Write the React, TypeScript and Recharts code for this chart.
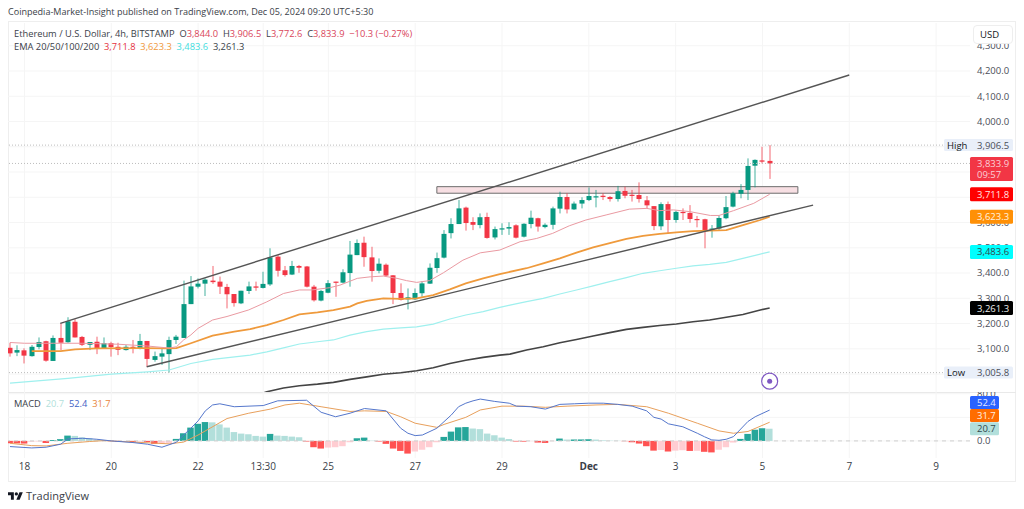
import { Bar, CartesianGrid, Cell, ComposedChart, Line, ReferenceArea, ReferenceDot, ReferenceLine, XAxis, YAxis } from "recharts";

const FONT = "'Open Sans', sans-serif";
const UP = "#089981";
const DOWN = "#f23645";

// 4h candles, left to right
const opens = [
  3104,3085,3094,3071,3107,3130,3052,3143,3126,3207,
  3147,3116,3128,3103,3122,3108,3095,3108,3100,3131,
  3056,3069,3079,3135,3143,3277,3346,3358,3370,3366,
  3345,3317,3280,3329,3347,3341,3355,3465,3411,3394,
  3428,3426,3346,3291,3322,3366,3362,3400,3471,3520,
  3462,3409,3433,3391,3321,3296,3296,3320,3358,3420,
  3461,3558,3594,3659,3602,3590,3622,3541,3573,3576,
  3589,3544,3594,3617,3582,3591,3655,3701,3652,3675,
  3689,3702,3706,3701,3693,3725,3710,3709,3688,3665,
  3585,3673,3610,3642,3638,3614,3613,3573,3576,3617,
  3663,3714,3729,3825,3846,3844,
];
const highs = [
  3124,3114,3102,3115,3145,3132,3153,3201,3225,3217,
  3151,3127,3148,3145,3128,3124,3115,3135,3159,3131,
  3089,3102,3148,3155,3370,3388,3379,3379,3428,3386,
  3357,3317,3330,3366,3366,3405,3498,3471,3428,3448,
  3432,3428,3353,3333,3372,3366,3415,3527,3533,3544,
  3504,3458,3438,3392,3359,3339,3339,3368,3438,3481,
  3570,3617,3689,3663,3621,3636,3639,3584,3597,3601,
  3593,3597,3647,3619,3597,3663,3722,3716,3683,3700,
  3739,3729,3716,3705,3745,3742,3729,3759,3705,3665,
  3680,3683,3647,3656,3669,3626,3615,3590,3628,3705,
  3722,3752,3854,3850,3900,3906.5,
];
const lows = [
  3069,3071,3042,3069,3098,3049,3052,3095,3124,3145,
  3111,3095,3079,3103,3069,3075,3093,3082,3098,3029,
  3049,3036,3005.8,3119,3143,3277,3339,3309,3357,3317,
  3260,3267,3277,3317,3330,3339,3349,3386,3386,3392,
  3401,3343,3287,3288,3320,3306,3359,3346,3471,3425,
  3366,3399,3386,3277,3291,3256,3293,3306,3357,3401,
  3458,3537,3594,3568,3570,3577,3536,3533,3551,3551,
  3537,3541,3577,3564,3577,3573,3636,3636,3650,3656,
  3685,3660,3689,3683,3683,3696,3683,3679,3654,3570,
  3570,3555,3599,3610,3599,3581,3498,3540,3570,3613,
  3660,3696,3689,3739,3834,3772.6,
];
const closes = [
  3082,3095,3073,3108,3127,3053,3143,3124,3209,3145,
  3116,3127,3103,3122,3107,3096,3108,3100,3131,3060,
  3071,3082,3135,3148,3277,3347,3358,3374,3364,3346,
  3316,3281,3330,3347,3342,3357,3462,3409,3392,3428,
  3421,3346,3292,3329,3360,3362,3403,3473,3519,3463,
  3408,3437,3390,3321,3294,3304,3321,3359,3421,3459,
  3555,3594,3656,3598,3591,3621,3539,3574,3577,3582,
  3540,3595,3619,3584,3591,3656,3701,3652,3675,3689,
  3705,3704,3702,3693,3724,3706,3709,3693,3668,3586,
  3673,3610,3642,3638,3614,3611,3568,3576,3618,3661,
  3716,3729,3824,3848,3841,3833.9,
];
const macdHist = [
  -4,-4.2,-4.5,-1.5,-1,-3.5,1.5,3,9,8.5,
  6,4.5,2,0.5,-0.5,-1.5,-1.3,-2,-1,-2,
  -5,-4.8,-3.5,3.4,13,22.6,29,32,31.5,28,
  22.6,15,12.4,11.3,8.5,7.3,11.9,9,8.5,7.3,
  6.2,-1,-10.7,-13,-11.3,-10.7,-9,-2.3,4.5,5.6,
  0.5,-1,-5,-13,-17,-21.5,-18,-15,-10.7,-2.3,
  6.8,15.8,23,23.5,21,20,12.4,9.6,5.6,3.4,
  -1,-1.2,-0.5,-2.8,-3.4,-0.5,4,2.3,2.4,2.5,
  2.8,2.3,1,0.5,0.3,-0.5,-2.3,-4.5,-9,-16.5,
  -15.5,-18,-16.5,-15.8,-17,-16.8,-18.5,-19.5,-15,-10.7,
  -2.8,3.4,11.9,19,21.5,20.7,
];

// moving averages, read at a candle position
const ema20At = [0,2,6,10,15,19,22,23,24,25,26,28,30,33,35.5,37.8,40,41.7,44.2,45.6,48,49.8,51.6,53.5,54.8,56.2,58,59.9,62.6,65,67.7,70.5,72.8,75,77.3,79.6,82.4,85.6,88,89.8,91.7,94,96.8,98,100,102.8,105];
const ema20 = [3125,3122,3122,3122,3118,3111,3103,3108,3135,3155,3181,3214,3228,3254,3286,3319,3333,3333,3342,3352,3379,3385,3388,3379,3370,3363,3370,3401,3451,3480,3491,3524,3537,3557,3587,3610,3630,3653,3656,3647,3650,3643,3628,3628,3647,3676,3711.8];
const ema50At = [3,7,9,12,18,22,23,25,28,31,33.2,35.5,37.8,40,42.5,44.7,47,48,49.3,51.6,54,56.2,58.5,60.8,63,65.4,67.7,71.4,73.7,76,78.3,80.6,82.9,85.2,87.5,89.8,92.1,94.4,96.7,99,101.3,103.7,105];
const ema50 = [3091,3091,3098,3102,3103,3102,3103,3122,3152,3168,3178,3194,3214,3236,3244,3253,3267,3280,3290,3300,3298,3300,3313,3335,3359,3379,3396,3419,3438,3458,3481,3502,3518,3535,3547,3555,3561,3566,3568,3570,3590,3610,3623.3];
const ema100At = [0,8,14,19,22,25,28,33.2,35.5,37.8,40,42.5,44.7,47,49.3,51.6,54,56.2,58.5,60.8,63,65.4,67.7,69.1,71.4,73.7,76,78.3,80.6,82.9,85.2,87.5,89.8,92.1,94.4,96.7,99,101.3,103.7,105];
const ema100 = [2964,2983,3000,3009,3016,3042,3058,3075,3088,3104,3119,3128,3135,3154,3168,3178,3183,3187,3198,3218,3234,3247,3264,3273,3287,3300,3317,3333,3349,3366,3382,3399,3409,3419,3428,3434,3442,3458,3475,3483.6];
const ema200At = [34,35.5,37.8,40,42.5,44.7,47,49.3,51.6,54,56.2,58.5,60.8,63,65.4,67.7,69.1,71.4,73.7,76,78.3,80.6,82.9,85.2,87.5,89.8,92.1,94.4,96.7,99,101.3,103.7,105];
const ema200 = [2915,2930,2945,2954,2960,2967,2979,2989,2999,3005,3013,3025,3042,3055,3066,3075,3079,3095,3108,3124,3137,3151,3164,3177,3185,3192,3198,3207,3214,3225,3236,3254,3261.3];

const macdAt = [0,3,5,7,8,10,12,14,17,19,21,23,24,25,26,27,28,29,31,35,37,41,43,45,47,49,52,54,55,56,57,59,61,62,63,64,65,67,69,70,72,74,76,78,80,82,84,86,88,89,90,91,93,95,96,97,98,99,100,102,103,105];
const macdLine = [-9.6,-11.9,-10.7,-5.6,3.4,4.5,2.8,0,-2.8,-5.6,-10.7,-2.3,10,21.5,34,51,61,63,58,60,68,69,48.6,41,47,55,51,21.5,13,9,10,21.5,44,58,64,68,71,67,64,59,58,54,62,63,64,64,62,59,51,40,37,29,24,13,7,1.7,1,2.8,7.3,33,41,52.4];
const signalAt = [0,3,5,8,11,13,17,22,24,26,30,33,36,38,40,43,47,49,52,54,56,59,60,63,65,68,71,74,77,81,84,88,91,95,98,100,102,105];
const signalLine = [-4,-8,-8.5,-4,-1,0.5,-2,-5,-2,10,38,47,54,61,64,58,50,51,50,41,30,23,28,40,52.5,59,59,57,59,61,62,58,47,30,17,13,16,31.7];

const priceGrid = [3000,3100,3200,3300,3400,3500,3600,3700,3800,3900,4000,4100,4200,4300];
// the other levels sit fully behind a value box
const priceTicks = [3100,3200,3300,3400,3500,3600,4000,4100,4200,4300];
const macdGrid = [0,40,80];
const macdTicks = [0,80];
const timeTickAt = [2,14,26,35,44,56,68,80,92,104,116,128];
const timeTickLabels = ["18","20","22","13:30","25","27","29","Dec","3","5","7","9"];

const candles = opens.map((open, k) => ({ k, open, high: highs[k], low: lows[k], close: closes[k], hist: macdHist[k] }));
const zipLine = (at: number[], vals: number[]) => at.map((k, i) => ({ k, v: vals[i] }));

const X_DOMAIN: [number, number] = [-0.276, 132.69];
const PRICE_DOMAIN: [number, number] = [2929, 4390];
const MACD_DOMAIN: [number, number] = [-29, 83];

const histColor = (i: number) => {
  const v = macdHist[i];
  const prev = i > 0 ? macdHist[i - 1] : 0;
  if (v >= 0) return v > prev ? "#26a69a" : "#b2dfdb";
  return v < prev ? "#ff5252" : "#ffcdd2";
};

function Candle(props: any) {
  const { x, y, width, height, payload } = props;
  const { open, high, low, close } = payload;
  const perUnit = height / (high - low);
  const cx = Math.round(x + width / 2);
  const top = y + (high - Math.max(open, close)) * perUnit;
  const bodyH = Math.max(Math.abs(open - close) * perUnit, 1.2);
  const color = close >= open ? UP : DOWN;
  return (
    <g>
      <line x1={cx} x2={cx} y1={y} y2={y + height} stroke={color} strokeWidth={1} opacity={0.75} />
      <rect x={cx - 2.5} y={top} width={5} height={bodyH} fill={color} />
    </g>
  );
}

// coloured value box sitting in the price scale
function tag(text: string, bg: string, fg: string, opts: { w?: number; h?: number; up?: number; name?: string; extra?: string } = {}) {
  const { w = 43, h = 14, up = 7, name, extra } = opts;
  return (p: any) => {
    const right = p.viewBox.x + p.viewBox.width;
    const y = p.viewBox.y;
    const left = name ? right - 26 : right;
    return (
      <g style={{ fontFamily: FONT, fontSize: 9.5 }}>
        <rect x={left} y={y - up} width={w + (right - left)} height={h} fill={bg} rx={1.5} />
        {name && <text x={left + 3} y={y + 3.5} fill="#131722">{name}</text>}
        <text x={right + 7} y={y + 3.5} fill={fg}>{text}</text>
        {extra && <text x={right + 7} y={y + 14.5} fill={fg}>{extra}</text>}
      </g>
    );
  };
}

const HIDDEN = "transparent";

function TimeTick(props: any) {
  const { x, y, payload } = props;
  const label = timeTickLabels[timeTickAt.indexOf(payload.value)];
  return (
    <text x={x} y={y + 4} textAnchor="middle" fontFamily={FONT} fontSize={10} fill="#3a3e48" fontWeight={label === "Dec" ? 700 : 400}>
      {label}
    </text>
  );
}

function Legend() {
  const base = { position: "absolute" as const, whiteSpace: "nowrap" as const, fontFamily: FONT, fontSize: 9.3, color: "#3a3e48" };
  const red = { color: "#d9455a" };
  return (
    <>
      <div style={{ ...base, left: 8, top: 5, fontSize: 9.05 }}>Coinpedia-Market-Insight published on TradingView.com, Dec 05, 2024 09:20 UTC+5:30</div>
      <div style={{ ...base, left: 14, top: 27 }}>
        Ethereum / U.S. Dollar, 4h, BITSTAMP&nbsp; O<span style={red}>3,844.0</span>&nbsp; H<span style={red}>3,906.5</span>&nbsp; L<span style={red}>3,772.6</span>&nbsp; C<span style={red}>3,833.9</span>&nbsp; <span style={red}>−10.3 (−0.27%)</span>
      </div>
      <div style={{ ...base, left: 14, top: 40 }}>
        EMA 20/50/100/200&nbsp; <span style={{ color: "#e5303c" }}>3,711.8</span>&nbsp; <span style={{ color: "#f0983a" }}>3,623.3</span>&nbsp; <span style={{ color: "#3fdde0" }}>3,483.6</span>&nbsp; <span>3,261.3</span>
      </div>
      <div style={{ ...base, left: 14, top: 397 }}>
        MACD&nbsp; <span style={{ color: "#b2dfdb" }}>20.7</span>&nbsp; <span style={{ color: "#3f62c4" }}>52.4</span>&nbsp; <span style={{ color: "#e8853a" }}>31.7</span>
      </div>
      <svg style={{ position: "absolute", left: 8, top: 491 }} width={15} height={10} viewBox="0 3 36 20">
        <path d="M14 22H7V11H0V4h14v18zM28 22h-8l7.5-18h8L28 22z" fill="#131722" />
        <circle cx={20} cy={8} r={4} fill="#131722" />
      </svg>
      <div style={{ ...base, left: 26, top: 488, fontSize: 11 }}>TradingView</div>
      <div style={{ position: "absolute", left: 973, top: 25, width: 40, height: 19, border: "1px solid #eeeeee", borderRadius: 4, background: "#fff", boxSizing: "border-box" }} />
      <div style={{ ...base, left: 980, top: 28, fontSize: 9.5, color: "#131722" }}>USD</div>
    </>
  );
}

export default function App() {
  return (
    <div style={{ position: "absolute", left: 0, top: 0, width: 1024, height: 509, background: "#fff", overflow: "hidden" }}>
      <div style={{ position: "absolute", left: 8, top: 21, width: 1008, height: 461, border: "1px solid #eeeeee", boxSizing: "border-box" }} />
      <div style={{ position: "absolute", left: 8, top: 392, width: 1008, height: 1, background: "#e9e9e9" }} />

      <div style={{ position: "absolute", left: 0, top: 0 }}>
        <ComposedChart width={1024} height={392} data={candles} margin={{ top: 23, right: 8, bottom: 0, left: 8 }}>
          <CartesianGrid stroke="#f5f5f5" horizontalValues={priceGrid} verticalValues={timeTickAt} />
          <XAxis dataKey="k" type="number" domain={X_DOMAIN} hide allowDataOverflow />
          <YAxis
            orientation="right"
            width={46}
            domain={PRICE_DOMAIN}
            allowDataOverflow
            ticks={priceTicks}
            interval={0}
            axisLine={false}
            tickLine={false}
            tickMargin={1}
            tickFormatter={(v: number) => v.toLocaleString("en-US", { minimumFractionDigits: 1 })}
            tick={{ fontSize: 9.5, fontFamily: FONT, fill: "#4a4e58" }}
          />
          <ReferenceLine y={3906.5} stroke="#bdbdbd" strokeDasharray="1 2" />
          <ReferenceLine y={3833.9} stroke="#bdbdbd" strokeDasharray="1 2" />
          <ReferenceLine y={3005.8} stroke="#bdbdbd" strokeDasharray="1 2" />
          <ReferenceArea x1={59} x2={108.9} y1={3716} y2={3742} fill="#f7dfe3" fillOpacity={1} stroke="#6d6d6d" strokeWidth={1} />
          <Line data={zipLine(ema200At, ema200)} dataKey="v" stroke="#444444" strokeWidth={1.6} dot={false} isAnimationActive={false} />
          <Line data={zipLine(ema100At, ema100)} dataKey="v" stroke="#9ff0ee" strokeWidth={1.2} dot={false} isAnimationActive={false} />
          <Line data={zipLine(ema50At, ema50)} dataKey="v" stroke="#ef9a3c" strokeWidth={1.8} dot={false} isAnimationActive={false} />
          <Line data={zipLine(ema20At, ema20)} dataKey="v" stroke="#ea9aa2" strokeWidth={1} dot={false} isAnimationActive={false} />
          <Bar dataKey={(d: any) => [d.low, d.high]} barSize={5} shape={<Candle />} isAnimationActive={false} />
          <ReferenceLine segment={[{ x: 6.95, y: 3201 }, { x: 116, y: 4184 }]} stroke="#555555" strokeWidth={1.4} />
          <ReferenceLine segment={[{ x: 18.9, y: 3029 }, { x: 111, y: 3669 }]} stroke="#555555" strokeWidth={1.4} />
          <ReferenceDot x={105} y={2972} r={8} fill="#fff" stroke="#7e57c2" strokeWidth={1.2} />
          <ReferenceDot x={105} y={2972} r={2.5} fill="#7e57c2" stroke="none" />
        </ComposedChart>
      </div>

      <div style={{ position: "absolute", left: 0, top: 392 }}>
        <ComposedChart width={1024} height={90} data={candles} margin={{ top: 0, right: 8, bottom: 0, left: 8 }}>
          <CartesianGrid stroke="#f5f5f5" horizontalValues={macdGrid} verticalValues={timeTickAt} />
          <XAxis
            dataKey="k"
            type="number"
            domain={X_DOMAIN}
            allowDataOverflow
            height={24}
            ticks={timeTickAt}
            interval={0}
            axisLine={false}
            tickLine={false}
            tick={<TimeTick />}
          />
          <YAxis
            orientation="right"
            width={46}
            domain={MACD_DOMAIN}
            allowDataOverflow
            ticks={macdTicks}
            interval={0}
            axisLine={false}
            tickLine={false}
            tickMargin={1}
            tickFormatter={(v: number) => v.toFixed(1)}
            tick={{ fontSize: 9.5, fontFamily: FONT, fill: "#4a4e58" }}
          />
          <ReferenceLine y={0} stroke="#cfcfcf" strokeDasharray="4 4" />
          <Bar dataKey="hist" barSize={6.5} isAnimationActive={false}>
            {candles.map((_, i) => <Cell key={i} fill={histColor(i)} />)}
          </Bar>
          <Line data={zipLine(signalAt, signalLine)} dataKey="v" stroke="#e8a05c" strokeWidth={1} dot={false} isAnimationActive={false} />
          <Line data={zipLine(macdAt, macdLine)} dataKey="v" stroke="#5577cc" strokeWidth={1} dot={false} isAnimationActive={false} />
        </ComposedChart>
      </div>

      {/* value boxes go in their own layers so they cover the scale labels */}
      <div style={{ position: "absolute", left: 0, top: 0 }}>
        <ComposedChart width={1024} height={392} data={candles} margin={{ top: 23, right: 54, bottom: 0, left: 8 }}>
          <XAxis dataKey="k" type="number" domain={X_DOMAIN} hide allowDataOverflow />
          <YAxis hide domain={PRICE_DOMAIN} allowDataOverflow />
          <ReferenceLine y={3906.5} stroke={HIDDEN} label={tag("3,906.5", "#e9eff9", "#4a4e58", { h: 12, up: 6, name: "High" })} />
          <ReferenceLine y={3833.9} stroke={HIDDEN} label={tag("3,833.9", "#f23645", "#fbd0d6", { h: 24, up: 6.5, extra: "09:57" })} />
          <ReferenceLine y={3711.8} stroke={HIDDEN} label={tag("3,711.8", "#ff0000", "#ffe5e5")} />
          <ReferenceLine y={3623.3} stroke={HIDDEN} label={tag("3,623.3", "#ff9006", "#fff3e0")} />
          <ReferenceLine y={3483.6} stroke={HIDDEN} label={tag("3,483.6", "#00ffff", "#33484c")} />
          <ReferenceLine y={3261.3} stroke={HIDDEN} label={tag("3,261.3", "#000000", "#eeeeee")} />
          <ReferenceLine y={3005.8} stroke={HIDDEN} label={tag("3,005.8", "#e9eff9", "#4a4e58", { h: 12, up: 6, name: "Low" })} />
        </ComposedChart>
      </div>
      <div style={{ position: "absolute", left: 0, top: 392 }}>
        <ComposedChart width={1024} height={66} data={candles} margin={{ top: 0, right: 54, bottom: 0, left: 8 }}>
          <XAxis dataKey="k" type="number" domain={X_DOMAIN} hide allowDataOverflow />
          <YAxis hide domain={MACD_DOMAIN} allowDataOverflow />
          <ReferenceLine y={65} stroke={HIDDEN} label={tag("52.4", "#2962ff", "#e3e9ff", { w: 29, h: 13, up: 6.5 })} />
          <ReferenceLine y={43} stroke={HIDDEN} label={tag("31.7", "#ff6d00", "#fff0e3", { w: 29, h: 13, up: 6.5 })} />
          <ReferenceLine y={20.7} stroke={HIDDEN} label={tag("20.7", "#b2dfdb", "#33484c", { w: 29, h: 13, up: 6.5 })} />
        </ComposedChart>
      </div>

      <Legend />
    </div>
  );
}
